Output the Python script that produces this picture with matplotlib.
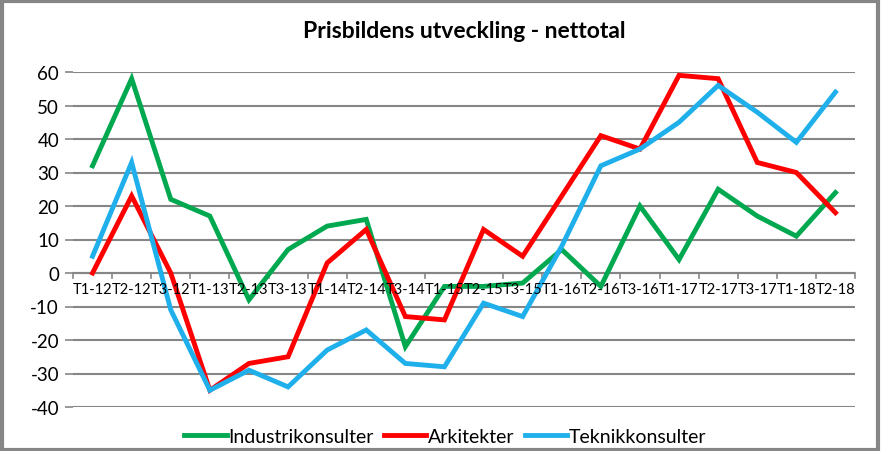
import matplotlib.pyplot as plt
import numpy as np
from matplotlib.patches import Rectangle

plt.rcParams['font.family'] = ['Lato', 'DejaVu Sans']
plt.rcParams['axes.unicode_minus'] = False

# kvartal
labels = ["T1-12", "T2-12", "T3-12", "T1-13", "T2-13", "T3-13", "T1-14", "T2-14",
          "T3-14", "T1-15", "T2-15", "T3-15", "T1-16", "T2-16", "T3-16", "T1-17",
          "T2-17", "T3-17", "T1-18", "T2-18"]
industri = [32, 58, 22, 17, -8, 7, 14, 16, -22, -4, -4, -3, 7, -4, 20, 4, 25, 17, 11, 24]
arkitekter = [0, 23, 0, -35, -27, -25, 3, 13, -13, -14, 13, 5, 23, 41, 37, 59, 58, 33, 30, 18]
teknik = [5, 33, -11, -35, -29, -34, -23, -17, -27, -28, -9, -13, 8, 32, 37, 45, 56, 48, 39, 54]

fig = plt.figure(figsize=(8.81, 4.52), dpi=100)
ax = fig.add_axes([73/881, 44/452, 782/881, 335/452])

x = np.arange(len(labels))
ax.plot(x, industri, color="#00a84f", lw=3.5, label="Industrikonsulter", solid_joinstyle="miter")
ax.plot(x, arkitekter, color="#ff0000", lw=3.5, label="Arkitekter", solid_joinstyle="miter")
ax.plot(x, teknik, color="#1fb0ec", lw=3.5, label="Teknikkonsulter", solid_joinstyle="miter")

ax.set_xlim(-0.5, len(labels) - 0.5)
ax.set_ylim(-40, 60)
ax.set_yticks(range(-40, 61, 10))
ax.tick_params(axis="y", labelsize=13.5, length=6, color="#868686", width=1.2, pad=4)
ax.grid(axis="y", color="#868686", lw=1.5)
ax.set_axisbelow(True)
for s in ax.spines.values():
    s.set_visible(False)

# x-axel vid noll
ax.axhline(0, color="#868686", lw=1.5, zorder=1)
ax.set_xticks([])
for b in np.arange(-0.5, len(labels), 1.0):
    ax.plot([b, b], [0, -1.5], color="#868686", lw=1.2, zorder=1, clip_on=False)
for i, lab in enumerate(labels):
    ax.text(i, -2.8, lab, ha="center", va="top", fontsize=10.5)

ax.set_title("Prisbildens utveckling - nettotal", fontsize=16.5, fontweight="bold", pad=25)

ax.legend(loc="upper center", bbox_to_anchor=(0.476, -0.01), ncol=3, frameon=False,
          fontsize=14, handlelength=2.2, handletextpad=0.1, columnspacing=0.5)

fig.patches.append(Rectangle((0.002, 0.003), 0.995, 0.993, transform=fig.transFigure,
                             fill=False, edgecolor="#868686", lw=3))

fig.savefig("out.png", dpi=100)
